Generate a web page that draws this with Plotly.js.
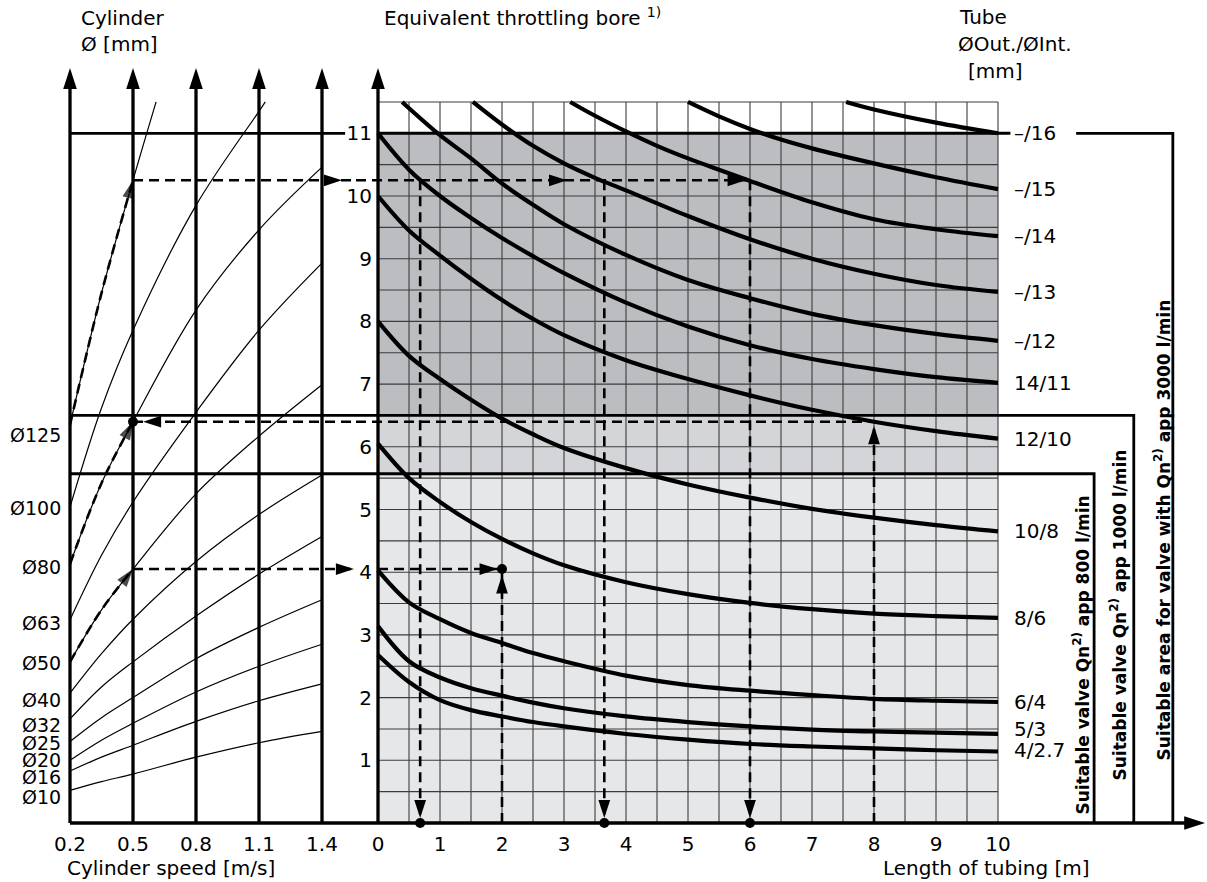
<!DOCTYPE html>
<html><head><meta charset="utf-8">
<script src="https://cdn.plot.ly/plotly-3.0.1.min.js"></script>
<style>html,body{margin:0;padding:0;background:#fff;}#chart{width:1207px;height:882px;}</style>
</head><body><div id="chart"></div>
<script>
// ================= DATA =================
const speedTicks = [0.2, 0.5, 0.8, 1.1, 1.4];
const lengthTicks = [0, 1, 2, 3, 4, 5, 6, 7, 8, 9, 10];
const boreTicks = [1, 2, 3, 4, 5, 6, 7, 8, 9, 10, 11];

// Cylinder curves (left panel): equivalent bore vs cylinder speed
const cylinderLabels = ['Ø10', 'Ø16', 'Ø20', 'Ø25', 'Ø32', 'Ø40', 'Ø50', 'Ø63', 'Ø80', 'Ø100', 'Ø125'];
const cylSpeeds = [0.2, 0.35, 0.5, 0.8, 1.1, 1.4];
const boreD10 = [0.52, 0.66, 0.78, 1.05, 1.28, 1.46];
const boreD16 = [0.83, 1.05, 1.24, 1.62, 1.95, 2.22];
const boreD20 = [1.00, 1.32, 1.59, 2.09, 2.50, 2.85];
const boreD25 = [1.30, 1.68, 2.00, 2.62, 3.12, 3.56];
const boreD32 = [1.66, 2.17, 2.57, 3.30, 3.97, 4.57];
const boreD40 = [2.07, 2.70, 3.25, 4.17, 4.92, 5.55];
const boreD50 = [2.57, 3.40, 4.05, 5.25, 6.17, 6.99];
const boreD63 = [3.24, 4.27, 5.12, 6.55, 7.86, 8.93];
const boreD80 = [4.13, 5.42, 6.40, 8.18, 9.46, 10.46];
const speedsD100 = [0.2, 0.35, 0.5, 0.8, 1.1, 1.13];
const boreD100 = [5.04, 6.62, 7.86, 9.85, 11.35, 11.5];
const speedsD125 = [0.2, 0.35, 0.5, 0.61];
const boreD125 = [6.35, 8.45, 10.25, 11.5];

// Tube curves (right panel): equivalent bore vs length of tubing
const tubeLabels = ['4/2.7', '5/3', '6/4', '8/6', '10/8', '12/10', '14/11', '–/12', '–/13', '–/14', '–/15', '–/16'];
const lenFull = [0, 0.5, 1, 1.5, 2, 2.5, 3, 4, 5, 6, 7, 8, 9, 10];
const bore4_27 = [2.68, 2.25, 1.96, 1.80, 1.70, 1.61, 1.54, 1.42, 1.33, 1.26, 1.22, 1.19, 1.16, 1.14];
const bore5_3 = [3.14, 2.58, 2.32, 2.15, 2.03, 1.92, 1.83, 1.70, 1.61, 1.54, 1.49, 1.46, 1.44, 1.42];
const bore6_4 = [4.03, 3.52, 3.25, 3.03, 2.87, 2.71, 2.58, 2.35, 2.20, 2.11, 2.04, 1.98, 1.95, 1.93];
const bore8_6 = [6.05, 5.50, 5.12, 4.80, 4.53, 4.30, 4.11, 3.84, 3.65, 3.51, 3.41, 3.34, 3.30, 3.27];
const bore10_8 = [8.00, 7.45, 7.08, 6.75, 6.45, 6.20, 5.98, 5.66, 5.40, 5.19, 5.01, 4.87, 4.75, 4.65];
const bore12_10 = [10.0, 9.45, 9.05, 8.68, 8.34, 8.04, 7.78, 7.38, 7.08, 6.82, 6.59, 6.40, 6.25, 6.13];
const bore14_11 = [11.0, 10.42, 10.00, 9.65, 9.33, 9.04, 8.77, 8.30, 7.92, 7.62, 7.40, 7.24, 7.11, 7.02];
const len12 = [0.39, 0.5, 1, 1.5, 2, 2.5, 3, 4, 5, 6, 7, 8, 9, 10];
const bore12 = [11.5, 11.4, 10.97, 10.6, 10.2, 9.86, 9.55, 9.06, 8.66, 8.37, 8.12, 7.94, 7.80, 7.69];
const len13 = [1.53, 2, 2.5, 3, 3.5, 4, 5, 6, 7, 8, 9, 10];
const bore13 = [11.5, 11.14, 10.8, 10.52, 10.29, 10.09, 9.68, 9.31, 9.0, 8.76, 8.58, 8.47];
const len14 = [3.1, 3.5, 4, 4.5, 5, 5.5, 6, 7, 8, 9, 10];
const bore14 = [11.5, 11.28, 11.03, 10.8, 10.6, 10.42, 10.24, 9.9, 9.63, 9.47, 9.36];
const len15 = [5.0, 5.5, 6, 6.5, 7, 8, 9, 10];
const bore15 = [11.5, 11.27, 11.07, 10.9, 10.76, 10.52, 10.3, 10.11];
const len16 = [7.55, 8, 9, 10];
const bore16 = [11.5, 11.38, 11.17, 11.0];

// Valve areas (upper bore limits)
const valveLimits = [5.57, 6.5, 11];
const valveTexts = ['Suitable valve Qn<sup>2)</sup> app 800 l/min',
                    'Suitable valve Qn<sup>2)</sup> app 1000 l/min',
                    'Suitable area for valve with Qn<sup>2)</sup> app 3000 l/min'];

// Worked examples (dashed reading paths)
const exBoreA = 4.05, exLenA = 2;          // Ø50 at 0.5 m/s -> 2 m
const exBoreB = 6.4, exLenB = 8;           // Ø80 at 0.5 m/s <- 8 m
const exBoreC = 10.25;                     // Ø125 at 0.5 m/s
const exLensC = [0.68, 3.65, 6.0];

// ================= LAYOUT GEOMETRY =================
const W = 1207, H = 882, B = 40, PH = H - B;
const FONT = 'DejaVu Sans, Liberation Sans, Arial, sans-serif';
const FS = 20;
const SPLIT = 356;                  // px where left/right panels meet
const X1 = [0.2 - 70 / 210, 0.2 + (SPLIT - 70) / 210];
const X2 = [(SPLIT - 378) / 62, (W - 378) / 62];
const YR = [-19 / 62.7, 823 / 62.7];
const GRID_TOP = 11.5, ARROW_Y = 12.04;
const BOX_X = [11.55, 12.19, 12.82];   // bracket columns for the valve areas
const DASH = '10px,6px';
const cylLabelPx = [797, 777, 760, 743, 725, 700, 663, 623, 567, 508, 435]; // label rows (px)

const traces = [];
function tr(xs, ys, ax, width, extra) {
  traces.push(Object.assign({
    type: 'scatter', mode: 'lines', x: xs, y: ys,
    xaxis: ax, yaxis: 'y', hoverinfo: 'skip', showlegend: false,
    line: {color: '#000', width: width}
  }, extra || {}));
}
function arrows(xs, ys, ax, angles, size) {
  traces.push({type: 'scatter', mode: 'markers', x: xs, y: ys, xaxis: ax, yaxis: 'y',
    hoverinfo: 'skip', showlegend: false,
    marker: {symbol: 'arrow', size: size || 19, angle: angles, color: '#000', line: {width: 0}}});
}
function dots(xs, ys, ax) {
  traces.push({type: 'scatter', mode: 'markers', x: xs, y: ys, xaxis: ax, yaxis: 'y',
    hoverinfo: 'skip', showlegend: false, marker: {symbol: 'circle', size: 10, color: '#000'}});
}

// Grid of right panel
const gx = [], gy = [];
for (let i = 0; i <= 20; i++) { gx.push(i * 0.5, i * 0.5, null); gy.push(0, GRID_TOP, null); }
for (let j = 1; j <= 23; j++) { gx.push(0, 10, null); gy.push(j * 0.5, j * 0.5, null); }
tr(gx, gy, 'x2', 1.1, {line: {color: '#3c3c3c', width: 1.1}});

// Valve limit lines
tr([0.2, 1.51], [valveLimits[2], valveLimits[2]], 'x', 2.8);
tr([0, 10.2], [valveLimits[2], valveLimits[2]], 'x2', 3);
tr([11.26, BOX_X[2], BOX_X[2]], [valveLimits[2], valveLimits[2], 0], 'x2', 2.8);
tr([0.2, X1[1]], [valveLimits[1], valveLimits[1]], 'x', 2.8);
tr([X2[0], BOX_X[1], BOX_X[1]], [valveLimits[1], valveLimits[1], 0], 'x2', 2.8);
tr([0.2, X1[1]], [valveLimits[0], valveLimits[0]], 'x', 2.8);
tr([X2[0], BOX_X[0], BOX_X[0]], [valveLimits[0], valveLimits[0], 0], 'x2', 2.8);

// Vertical speed lines with arrows, bore axis with arrow, length axis with arrow
const vx = [], vy = [];
speedTicks.forEach(v => { vx.push(v, v, null); vy.push(0, 11.8, null); });
tr(vx, vy, 'x', 3.3);
arrows(speedTicks, speedTicks.map(() => ARROW_Y), 'x', 0, 22);
tr([0, 0], [0, 11.8], 'x2', 3.3);
arrows([0], [ARROW_Y], 'x2', 0, 22);
tr([0.2, X1[1]], [0, 0], 'x', 3.3);
tr([X2[0], 13.1], [0, 0], 'x2', 3.3);
arrows([13.34], [0], 'x2', 90, 22);

// Cylinder curves
const cylSets = [
  [cylSpeeds, boreD10], [cylSpeeds, boreD16], [cylSpeeds, boreD20], [cylSpeeds, boreD25],
  [cylSpeeds, boreD32], [cylSpeeds, boreD40], [cylSpeeds, boreD50], [cylSpeeds, boreD63],
  [cylSpeeds, boreD80], [speedsD100, boreD100], [speedsD125, boreD125]];
cylSets.forEach(s => tr(s[0], s[1], 'x', 1.2, {line: {color: '#000', width: 1.2, shape: 'spline', smoothing: 1}}));

// Tube curves
const tubeSets = [
  [lenFull, bore4_27], [lenFull, bore5_3], [lenFull, bore6_4], [lenFull, bore8_6],
  [lenFull, bore10_8], [lenFull, bore12_10], [lenFull, bore14_11], [len12, bore12],
  [len13, bore13], [len14, bore14], [len15, bore15], [len16, bore16]];
tubeSets.forEach(s => tr(s[0], s[1], 'x2', 4.2, {line: {color: '#000', width: 4.2, shape: 'spline', smoothing: 1}}));

// Dashed example paths
function dashed(xs, ys, ax, extra) {
  tr(xs, ys, ax, 2.6, Object.assign({line: {color: '#000', width: 2.6, dash: DASH, shape: 'spline', smoothing: 1}}, extra || {}));
}
function curveArrow(sx, sy) {
  dashed(sx, sy, 'x', {mode: 'lines+markers',
    marker: {symbol: 'arrow', size: sx.map((_, i) => i === sx.length - 1 ? 19 : 0), angleref: 'previous', color: '#000', line: {width: 0}}});
}
curveArrow(cylSpeeds.slice(0, 3), boreD50.slice(0, 3));
curveArrow(cylSpeeds.slice(0, 3), boreD80.slice(0, 3));
curveArrow(speedsD125.slice(0, 3), boreD125.slice(0, 3));
// example A
dashed([0.5, 1.54], [exBoreA, exBoreA], 'x');
arrows([1.552], [exBoreA], 'x', 90);
dashed([0, exLenA], [exBoreA, exBoreA], 'x2');
arrows([exLenA - 0.07], [exBoreA], 'x2', 90);
dashed([exLenA, exLenA], [0, exBoreA], 'x2');
arrows([exLenA], [exBoreA - 0.1], 'x2', 0);
dots([exLenA], [exBoreA], 'x2');
// example B
dashed([0.5, X1[1]], [exBoreB, exBoreB], 'x');
dashed([X2[0], exLenB], [exBoreB, exBoreB], 'x2');
arrows([0.548], [exBoreB], 'x', 270);
dashed([exLenB, exLenB], [0, exBoreB], 'x2');
arrows([exLenB], [exBoreB - 0.07], 'x2', 0);
dots([0.5], [exBoreB], 'x');
// example C
dashed([0.5, X1[1]], [exBoreC, exBoreC], 'x');
dashed([X2[0], exLensC[2]], [exBoreC, exBoreC], 'x2');
arrows([1.495], [exBoreC], 'x', 90);
arrows([3.05, 5.93], [exBoreC, exBoreC], 'x2', 90);
exLensC.forEach(L => dashed([L, L], [exBoreC, 0.1], 'x2'));
arrows(exLensC, exLensC.map(() => 0.08), 'x2', 180);
dots(exLensC, exLensC.map(() => 0), 'x2');

// ================= ANNOTATIONS =================
const px = x => x / W, py = y => (PH - y) / PH;
const annotations = [];
function txt(text, x, y, opt) {
  annotations.push(Object.assign({text: text, xref: 'paper', yref: 'paper', x: px(x), y: py(y),
    showarrow: false, xanchor: 'left', yanchor: 'middle',
    font: {family: FONT, size: FS, color: '#000'}}, opt || {}));
}
txt('Cylinder', 79, 18);
txt('Ø [mm]', 79, 44);
txt('Equivalent throttling bore <sup>1)</sup>', 382, 17);
txt('Tube', 957, 17);
txt('ØOut./ØInt.', 956, 44);
txt('[mm]', 966, 71);
txt('Cylinder speed [m/s]', 65, 868);
txt('Length of tubing [m]', 881, 868);

const pxPerBore = 62.7;
cylinderLabels.forEach((lab, i) => {
  const y0 = cylSets[i][1][0];
  const curvePx = 823 - y0 * pxPerBore;
  annotations.push({text: lab, xref: 'x', yref: 'y', x: 0.2, y: y0, xanchor: 'right', yanchor: 'middle',
    xshift: -7, yshift: curvePx - cylLabelPx[i], showarrow: false, font: {family: FONT, size: 19, color: '#000'}});
});
const tubeShift = {'5/3': 5, '4/2.7': 2};
tubeLabels.forEach((lab, i) => {
  const ys = tubeSets[i][1];
  annotations.push({text: lab, xref: 'x2', yref: 'y', x: 10, y: ys[ys.length - 1], xanchor: 'left', yanchor: 'middle',
    xshift: 14, yshift: tubeShift[lab] || 0, showarrow: false, font: {family: FONT, size: FS, color: '#000'}});
});
const valveTextPos = [[1081, 817], [1118, 783], [1162, 763]];
valveTexts.forEach((t, i) => {
  annotations.push({text: t, xref: 'paper', yref: 'paper', x: px(valveTextPos[i][0]), y: py(valveTextPos[i][1]),
    xanchor: 'center', yanchor: 'bottom', textangle: -90, showarrow: false,
    font: {family: FONT, size: 17, color: '#000', weight: 'bold'}});
});

// ================= SHAPES (shaded valve areas) =================
const shades = ['#e6e7e9', '#d4d5d8', '#bcbdc1'];
const shapes = valveLimits.map((lim, i) => ({type: 'rect', xref: 'x2', yref: 'y', x0: 0, x1: 10,
  y0: i === 0 ? 0 : valveLimits[i - 1], y1: lim, fillcolor: shades[i], line: {width: 0}, layer: 'below'}));

const axFont = {family: FONT, size: FS, color: '#000'};
const layout = {
  width: W, height: H, margin: {l: 0, r: 0, t: 0, b: B},
  paper_bgcolor: '#fff', plot_bgcolor: 'rgba(0,0,0,0)', showlegend: false, hovermode: false,
  xaxis: {domain: [0, SPLIT / W], range: X1, anchor: 'free', position: (PH - 823) / PH,
    tickvals: speedTicks, ticktext: speedTicks.map(v => v.toFixed(1)),
    ticks: 'outside', ticklen: 3, tickcolor: 'rgba(0,0,0,0)', tickfont: axFont,
    showgrid: false, zeroline: false, showline: false, fixedrange: true},
  xaxis2: {domain: [SPLIT / W, 1], range: X2, anchor: 'free', position: (PH - 823) / PH,
    tickvals: lengthTicks, ticks: 'outside', ticklen: 3, tickcolor: 'rgba(0,0,0,0)', tickfont: axFont,
    showgrid: false, zeroline: false, showline: false, fixedrange: true},
  yaxis: {domain: [0, 1], range: YR, anchor: 'free', position: 378 / W,
    tickvals: boreTicks, ticks: 'outside', ticklen: 2, tickcolor: 'rgba(0,0,0,0)', tickfont: axFont,
    showgrid: false, zeroline: false, showline: false, fixedrange: true},
  shapes: shapes, annotations: annotations
};
Plotly.newPlot('chart', traces, layout, {displayModeBar: false, staticPlot: true});
</script></body></html>
